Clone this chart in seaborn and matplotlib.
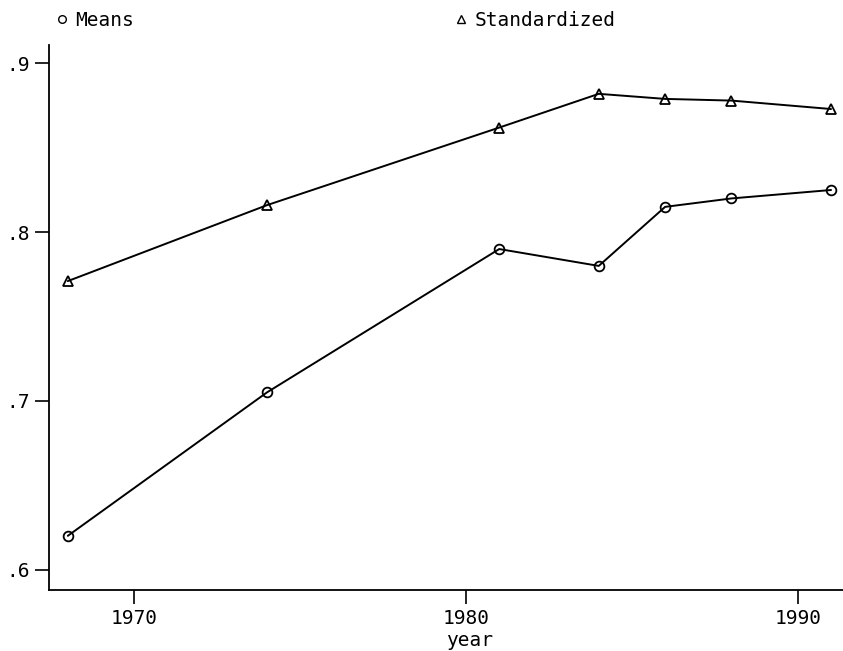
import numpy as np
import pandas as pd
import matplotlib
matplotlib.use("Agg")
import matplotlib.pyplot as plt
from matplotlib.ticker import FuncFormatter
from matplotlib.lines import Line2D
import seaborn as sns

# data
years = [1968, 1974, 1981, 1984, 1986, 1988, 1991]
means = [0.620, 0.705, 0.790, 0.780, 0.815, 0.820, 0.825]
standardized = [0.771, 0.816, 0.862, 0.882, 0.879, 0.878, 0.873]
y_ticks = [0.6, 0.7, 0.8, 0.9]
x_ticks = [1970, 1980, 1990]

df = pd.DataFrame({
    "year": years * 2,
    "value": means + standardized,
    "series": ["Means"] * len(years) + ["Standardized"] * len(years),
})

sns.set_style("white")
plt.rcParams["font.family"] = ["DejaVu Sans Mono", "DejaVu Sans"]
plt.rcParams["text.color"] = "black"
plt.rcParams["axes.labelcolor"] = "black"

fig = plt.figure(figsize=(8.43, 6.51), dpi=100)
ax = fig.add_axes([0.058, 0.094, 0.942, 0.837])

sns.lineplot(data=df, x="year", y="value", style="series",
             markers={"Means": "o", "Standardized": "^"}, dashes=False,
             color="black", linewidth=1.4, markersize=7,
             markerfacecolor="none", markeredgecolor="black", markeredgewidth=1.3,
             legend=False, ax=ax)

ax.set_xlim(1967.43, 1991.36)
ax.set_ylim(0.588, 0.911)
ax.set_xticks(x_ticks)
ax.set_yticks(y_ticks)
ax.yaxis.set_major_formatter(FuncFormatter(lambda v, p: ("%.1f" % v).lstrip("0")))
ax.tick_params(axis="both", direction="out", length=10, width=1.2, colors="black",
               labelsize=14, left=True, bottom=True)
for s in ["top", "right"]:
    ax.spines[s].set_visible(False)
for s in ["left", "bottom"]:
    ax.spines[s].set_color("black")
    ax.spines[s].set_linewidth(1.3)
ax.set_xlabel("year", fontsize=14, labelpad=0)
ax.xaxis.set_label_coords(0.53, -0.075)
ax.set_ylabel("")

h1 = Line2D([], [], marker="o", ls="none", mfc="none", mec="black", markersize=5.5)
h2 = Line2D([], [], marker="^", ls="none", mfc="none", mec="black", markersize=5.5)
fig.legend([h1], ["Means"], loc="upper left", bbox_to_anchor=(0.043, 1.01),
           frameon=False, fontsize=14, handlelength=0.8, handletextpad=0.3,
           labelcolor="black")
fig.legend([h2], ["Standardized"], loc="upper left", bbox_to_anchor=(0.517, 1.01),
           frameon=False, fontsize=14, handlelength=0.8, handletextpad=0.3,
           labelcolor="black")

fig.savefig("out.png", dpi=100)
